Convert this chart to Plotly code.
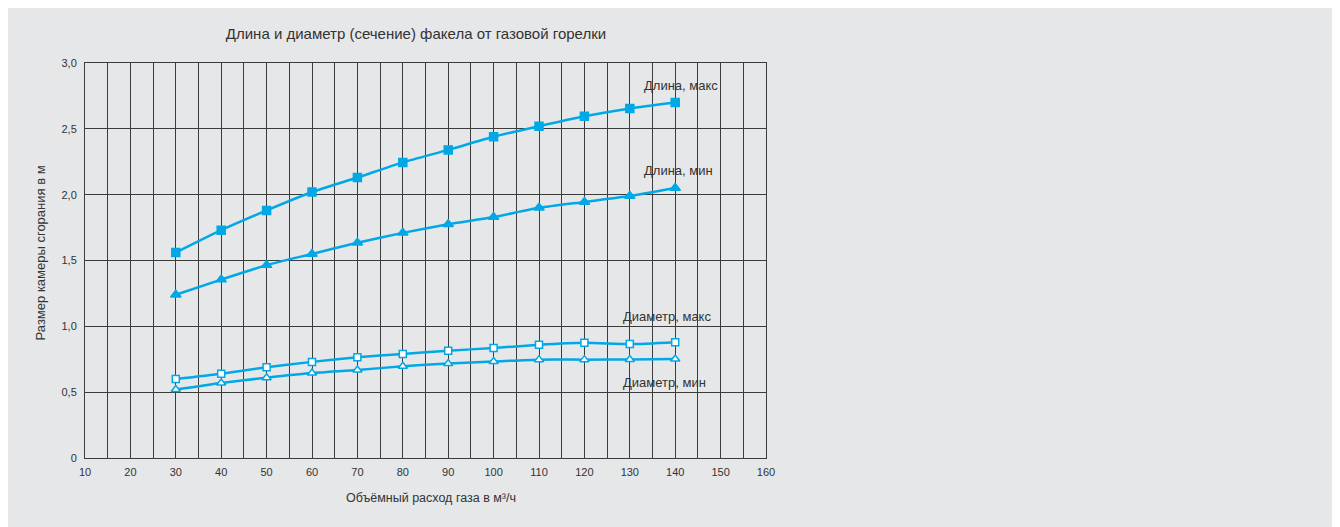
import plotly.graph_objects as go

# ---- data ----
gas_flow = [30, 40, 50, 60, 70, 80, 90, 100, 110, 120, 130, 140]
length_max = [1.56, 1.73, 1.88, 2.02, 2.13, 2.245, 2.34, 2.44, 2.52, 2.595, 2.655, 2.70]
length_min = [1.24, 1.355, 1.465, 1.55, 1.635, 1.71, 1.775, 1.83, 1.90, 1.945, 1.99, 2.05]
diam_max = [0.60, 0.64, 0.69, 0.73, 0.765, 0.79, 0.815, 0.835, 0.86, 0.875, 0.865, 0.88]
diam_min = [0.52, 0.57, 0.61, 0.645, 0.668, 0.697, 0.717, 0.733, 0.747, 0.747, 0.748, 0.752]

x_tickvals = list(range(10, 161, 10))
x_ticktext = [str(v) for v in x_tickvals]
y_tickvals = [0, 0.5, 1.0, 1.5, 2.0, 2.5, 3.0]
y_ticktext = ["0", "0,5", "1,0", "1,5", "2,0", "2,5", "3,0"]

title_text = "Длина и диаметр (сечение) факела от газовой горелки"
x_title = "Объёмный расход газа в м³/ч"
y_title = "Размер камеры сгорания в м"
series_labels = ["Длина, макс", "Длина, мин", "Диаметр, макс", "Диаметр, мин"]

BLUE = "#00a8e6"
GRID = "#3c3c3c"
BG = "#e6e7e9"
TXT = "#333333"
FONT = "Liberation Sans, Arial, sans-serif"

W, H = 1332, 519
ML, MT, PW, PH = 77, 55, 681, 395

fig = go.Figure()

series = [
    (length_max, "square", BLUE, 8),
    (length_min, "triangle-up", BLUE, 9),
    (diam_max, "square", "white", 7),
    (diam_min, "triangle-up", "white", 8),
]
for (vals, sym, fill, size), name in zip(series, series_labels):
    fig.add_trace(go.Scatter(
        x=gas_flow, y=vals, mode="lines+markers", name=name,
        line=dict(color=BLUE, width=2.5, shape="spline", smoothing=0.6),
        marker=dict(symbol=sym, size=size, color=fill,
                    line=dict(color=BLUE, width=1.5)),
        showlegend=False,
    ))

# series labels (positions in paper coords)
label_pos = [(0.818, 0.942), (0.818, 0.727), (0.787, 0.357), (0.787, 0.190)]
for (px, py), txt in zip(label_pos, series_labels):
    fig.add_annotation(x=px, y=py, xref="paper", yref="paper", text=txt,
                       showarrow=False, xanchor="left", yanchor="middle",
                       font=dict(size=13, color=TXT, family=FONT))

# axis titles
fig.add_annotation(x=0.508, y=-0.101, xref="paper", yref="paper", text=x_title,
                   showarrow=False, xanchor="center", yanchor="middle",
                   font=dict(size=12.5, color=TXT, family=FONT))
fig.add_annotation(x=-0.064, y=0.519, xref="paper", yref="paper", text=y_title,
                   showarrow=False, xanchor="center", yanchor="middle", textangle=-90,
                   font=dict(size=13, color=TXT, family=FONT))

# background panel
fig.add_shape(type="rect", xref="paper", yref="paper",
              x0=-0.3, x1=2.0, y0=-0.4, y1=1.3,
              fillcolor=BG, line=dict(width=0), layer="below")

fig.update_layout(
    width=W, height=H,
    margin=dict(l=ML, r=W - ML - PW, t=MT, b=H - MT - PH),
    paper_bgcolor=BG,
    plot_bgcolor="rgba(0,0,0,0)",
    font=dict(family=FONT, color=TXT, size=11),
    title=dict(text=title_text, x=0.486, xref="paper", xanchor="center",
               y=1 - 26 / H, yref="container", yanchor="middle",
               font=dict(size=15, color=TXT, family=FONT)),
    xaxis=dict(range=[10, 160], tickvals=x_tickvals, ticktext=x_ticktext,
               showgrid=True, gridcolor=GRID, gridwidth=1,
               minor=dict(dtick=5, tick0=10, showgrid=True, gridcolor=GRID, gridwidth=1),
               showline=True, linecolor=GRID, linewidth=1, mirror=True,
               zeroline=False, ticks="", ticklabelstandoff=4,
               tickfont=dict(size=11, color=TXT)),
    yaxis=dict(range=[0, 3.0], tickvals=y_tickvals, ticktext=y_ticktext,
               showgrid=True, gridcolor=GRID, gridwidth=1,
               showline=True, linecolor=GRID, linewidth=1, mirror=True,
               zeroline=False, ticks="", ticklabelstandoff=5,
               tickfont=dict(size=11, color=TXT)),
)

fig.write_html("out.html")
